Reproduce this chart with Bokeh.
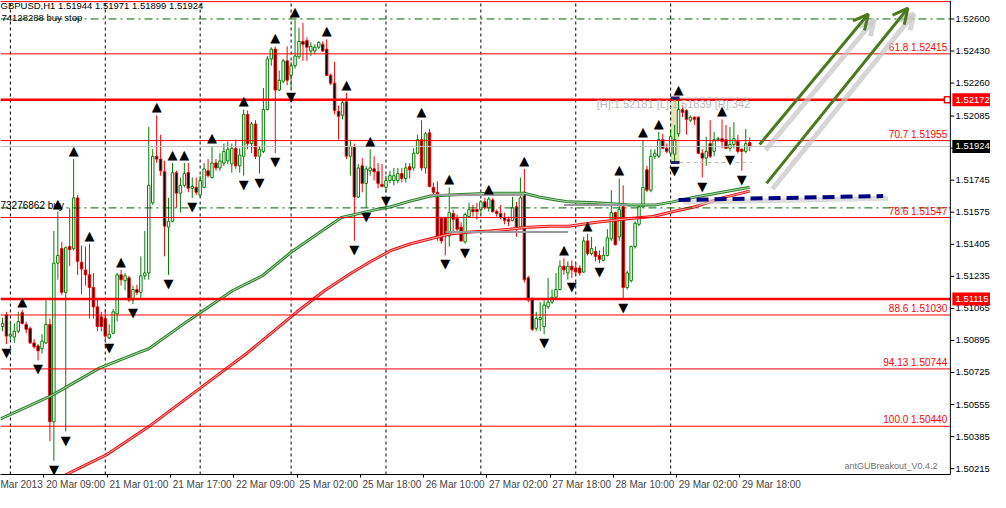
from bokeh.plotting import figure
from bokeh.models import (Range1d, FixedTicker, Label, Arrow, OpenHead, ColumnDataSource, Span)
from bokeh.embed import file_html
from bokeh.resources import INLINE
from bokeh.core.properties import value

# ---------------- data (GBPUSD H1, bar index 0 = 19 Mar 22:00) ----------------
bar_open = [1.50969,1.51031,1.50918,1.50913,1.50944,1.51042,1.50980,1.50959,1.50882,1.50866,
1.50851,1.50882,1.50980,1.50464,1.51305,1.51382,1.51150,1.51393,1.51382,1.51651,
1.51310,1.51269,1.51243,1.51176,1.51073,1.51021,1.51011,1.50908,1.50933,1.51036,
1.51243,1.51212,1.51227,1.51109,1.51165,1.51150,1.51238,1.51253,1.51625,1.51872,
1.51857,1.51790,1.51496,1.51527,1.51785,1.51676,1.51718,1.51785,1.51702,1.51707,
1.51666,1.51707,1.51795,1.51759,1.51836,1.51810,1.51836,1.51847,1.51831,1.51914,
1.51821,1.51872,1.52094,1.51939,1.52043,1.51872,1.51898,1.52120,1.52388,1.52440,
1.52223,1.52270,1.52378,1.52301,1.52352,1.52399,1.52481,1.52486,1.52430,1.52430,
1.52450,1.52466,1.52440,1.52301,1.52259,1.52110,1.52089,1.52161,1.51872,1.51924,
1.51656,1.51821,1.51728,1.51795,1.51805,1.51790,1.51723,1.51707,1.51743,1.51743,
1.51743,1.51780,1.51754,1.51816,1.51810,1.51888,1.51960,1.51810,1.51996,1.51707,
1.51681,1.51542,1.51547,1.51449,1.51568,1.51542,1.51496,1.51418,1.51552,1.51589,
1.51589,1.51589,1.51630,1.51599,1.51640,1.51578,1.51568,1.51547,1.51537,1.51532,
1.51604,1.51496,1.51681,1.51227,1.51114,1.50959,1.51006,1.50969,1.51073,1.51098,
1.51124,1.51165,1.51289,1.51253,1.51289,1.51279,1.51279,1.51258,1.51423,1.51356,
1.51367,1.51346,1.51320,1.51346,1.51434,1.51573,1.51444,1.51604,1.51176,1.51212,
1.51393,1.51511,1.51604,1.51800,1.51692,1.51872,1.51872,1.51960,1.51914,1.51888,
1.51883,1.51991,1.52120,1.52115,1.52063,1.52079,1.52079,1.51888,1.51862,1.51939,
1.51898,1.51960,1.51965,1.51960,1.51914,1.51934,1.51950,1.51909,1.51898,1.51944]
bar_high = [1.51016,1.51047,1.51000,1.50985,1.51047,1.51057,1.50995,1.50969,1.50902,1.50876,
1.50928,1.51109,1.51011,1.51475,1.51578,1.51418,1.51393,1.51599,1.51857,1.51666,
1.51398,1.51393,1.51408,1.51253,1.51114,1.51047,1.51062,1.50980,1.51062,1.51253,
1.51269,1.51253,1.51238,1.51186,1.51191,1.51341,1.51475,1.52027,1.51909,1.52089,
1.51986,1.51847,1.51651,1.51836,1.51795,1.51759,1.51836,1.51836,1.51759,1.51759,
1.51769,1.51836,1.51857,1.51924,1.51857,1.51888,1.51939,1.51950,1.51939,1.51960,
1.51914,1.52120,1.52115,1.52053,1.52063,1.51924,1.52234,1.52404,1.52450,1.52455,
1.52326,1.52388,1.52455,1.52373,1.52595,1.52554,1.52579,1.52502,1.52476,1.52466,
1.52481,1.52481,1.52492,1.52311,1.52373,1.52141,1.52172,1.52208,1.51960,1.51939,
1.51831,1.51862,1.51821,1.51909,1.51872,1.51836,1.51831,1.51769,1.51795,1.51810,
1.51810,1.51810,1.51836,1.51836,1.51914,1.51986,1.52063,1.52001,1.52017,1.51733,
1.51738,1.51552,1.51552,1.51707,1.51589,1.51563,1.51522,1.51573,1.51625,1.51614,
1.51625,1.51640,1.51651,1.51656,1.51651,1.51589,1.51614,1.51573,1.51552,1.51656,
1.51630,1.51759,1.51805,1.51238,1.51124,1.51047,1.51098,1.51109,1.51227,1.51165,
1.51253,1.51320,1.51331,1.51315,1.51320,1.51305,1.51294,1.51444,1.51460,1.51444,
1.51393,1.51372,1.51393,1.51485,1.51692,1.51578,1.51754,1.51718,1.51264,1.51398,
1.51527,1.51614,1.51960,1.51821,1.51909,1.51909,1.52001,1.51991,1.51939,1.52012,
1.52038,1.52181,1.52141,1.52120,1.52089,1.52084,1.52084,1.51909,1.51976,1.52063,
1.52001,1.51976,1.52068,1.52038,1.52027,1.52053,1.51986,1.51914,1.52017,1.51971]
bar_low = [1.50944,1.50876,1.50902,1.50882,1.50933,1.50980,1.50933,1.50876,1.50851,1.50789,
1.50825,1.50876,1.50361,1.50257,1.51217,1.51135,1.50412,1.51289,1.51372,1.51243,
1.51140,1.51186,1.51011,1.51011,1.50944,1.50944,1.50892,1.50902,1.50928,1.50995,
1.51186,1.51160,1.51098,1.51088,1.51135,1.51114,1.51217,1.51217,1.51614,1.51836,
1.51769,1.51341,1.51243,1.51522,1.51599,1.51573,1.51707,1.51681,1.51651,1.51666,
1.51656,1.51702,1.51759,1.51754,1.51795,1.51795,1.51821,1.51831,1.51785,1.51805,
1.51785,1.51769,1.51909,1.51888,1.51857,1.51780,1.51888,1.52115,1.52352,1.51888,
1.52218,1.52259,1.52249,1.52234,1.52337,1.52388,1.52378,1.52378,1.52404,1.52414,
1.52440,1.52425,1.52296,1.52249,1.52094,1.51960,1.52068,1.51857,1.51769,1.51423,
1.51651,1.51681,1.51599,1.51769,1.51743,1.51702,1.51707,1.51681,1.51728,1.51718,
1.51728,1.51733,1.51733,1.51754,1.51795,1.51883,1.51795,1.51780,1.51707,1.51666,
1.51423,1.51408,1.51346,1.51393,1.51475,1.51475,1.51418,1.51408,1.51547,1.51552,
1.51537,1.51563,1.51589,1.51578,1.51573,1.51552,1.51537,1.51511,1.51501,1.51527,
1.51444,1.51485,1.51202,1.51098,1.50944,1.50944,1.50944,1.50928,1.51062,1.51088,
1.51114,1.51160,1.51243,1.51217,1.51227,1.51238,1.51238,1.51253,1.51346,1.51346,
1.51315,1.51305,1.51315,1.51341,1.51423,1.51398,1.51423,1.51114,1.51165,1.51202,
1.51382,1.51501,1.51599,1.51681,1.51681,1.51857,1.51862,1.51909,1.51888,1.51883,
1.51839,1.51976,1.52079,1.51986,1.52053,1.52038,1.51883,1.51759,1.51821,1.51862,
1.51872,1.51950,1.51914,1.51909,1.51898,1.51914,1.51888,1.51795,1.51888,1.51899]
bar_close = [1.50985,1.50918,1.50928,1.50944,1.50995,1.50985,1.50954,1.50882,1.50861,1.50840,
1.50892,1.50980,1.50464,1.51305,1.51346,1.51150,1.51387,1.51377,1.51651,1.51315,
1.51274,1.51243,1.51176,1.51073,1.50969,1.50969,1.50918,1.50928,1.51047,1.51243,
1.51217,1.51238,1.51109,1.51165,1.51150,1.51238,1.51253,1.51718,1.51872,1.51857,
1.51795,1.51501,1.51527,1.51785,1.51676,1.51718,1.51780,1.51702,1.51712,1.51681,
1.51743,1.51805,1.51769,1.51836,1.51810,1.51847,1.51898,1.51909,1.51914,1.51821,
1.51878,1.52094,1.51939,1.52043,1.51872,1.51909,1.52120,1.52388,1.52440,1.52223,
1.52275,1.52378,1.52275,1.52352,1.52404,1.52481,1.52466,1.52450,1.52455,1.52450,
1.52476,1.52430,1.52301,1.52259,1.52115,1.52084,1.52156,1.51872,1.51924,1.51656,
1.51810,1.51728,1.51805,1.51810,1.51790,1.51728,1.51712,1.51743,1.51769,1.51769,
1.51780,1.51754,1.51810,1.51800,1.51888,1.51960,1.51810,1.51991,1.51712,1.51681,
1.51444,1.51423,1.51449,1.51573,1.51537,1.51485,1.51423,1.51563,1.51589,1.51578,
1.51578,1.51630,1.51599,1.51645,1.51578,1.51568,1.51547,1.51532,1.51527,1.51599,
1.51496,1.51651,1.51217,1.51109,1.50954,1.51011,1.51016,1.51083,1.51098,1.51124,
1.51165,1.51289,1.51269,1.51289,1.51269,1.51258,1.51253,1.51423,1.51356,1.51382,
1.51341,1.51325,1.51346,1.51439,1.51573,1.51403,1.51589,1.51176,1.51253,1.51393,
1.51516,1.51604,1.51707,1.51692,1.51872,1.51888,1.51960,1.51914,1.51898,1.51976,
1.51960,1.52120,1.52105,1.52068,1.52079,1.52068,1.51888,1.51862,1.51898,1.51872,
1.51960,1.51965,1.51950,1.51914,1.51934,1.51965,1.51898,1.51898,1.51939,1.51924]

# fractal bars
fractal_up = [5,14,18,22,30,39,43,46,53,61,69,74,82,87,93,106,113,123,132,142,148,156,162,166,171,182]
fractal_dn = [1,9,13,16,27,33,42,48,61,65,69,73,89,92,97,112,117,137,144,151,157,170,177,184,187]

# moving averages (bar index, price)
ma_fast_x = [-0.5,12,16.25,24.5,33.75,37,47,58.25,65.75,73.25,80.75,85.75,94.5,98.25,103.25,108.25,
             113.25,123.25,132,135.75,140,143.25,150.25,158.75,165.25,169.5,175.25,182,189]
ma_fast_y = [1.50479,1.50598,1.50649,1.50748,1.50825,1.50851,1.51000,1.51160,1.51238,1.51367,1.51475,
             1.51547,1.51589,1.51604,1.51635,1.51661,1.51666,1.51676,1.51676,1.51656,1.51640,1.51630,
             1.51625,1.51614,1.51614,1.51630,1.51656,1.51681,1.51707]
ma_slow_x = [14.5,17.75,26.25,37,49.5,62,74.5,81.5,88.25,93.25,98.25,103.25,108.25,113.25,118.25,
             123.25,128.25,133.25,138.25,143.25,150.25,158.75,164.5,169.5,175.25,182,189]
ma_slow_y = [1.50165,1.50201,1.50288,1.50438,1.50634,1.50830,1.51047,1.51160,1.51253,1.51315,1.51372,
             1.51408,1.51434,1.51460,1.51470,1.51475,1.51485,1.51496,1.51501,1.51501,1.51522,1.51542,
             1.51552,1.51578,1.51604,1.51651,1.51687]
step_x0 = [108, 112, 142]
step_x1 = [132, 143, 158]
step_y = [1.51666, 1.51470, 1.51614]

# levels
fib_pct = ["61.8", "70.7", "78.6", "88.6", "94.13", "100.0"]
fib_price = [1.52415, 1.51955, 1.51547, 1.51030, 1.50744, 1.50440]
thick_levels = [1.52172, 1.51115]
top_level = 1.52692
bid = 1.51924
buy_stop_price = 1.52600
buy_price = 1.51598
day_sep = [2, 26, 50, 73, 97, 121, 145, 169]

# range box
box_x = [169, 171.25]
box_hi, box_lo = 1.52181, 1.51839

# drawn objects
arrow_x0 = [191.5, 193.25]
arrow_y0 = [1.51934, 1.51728]
arrow_x1 = [219.0, 229.0]
arrow_y1 = [1.52626, 1.52657]
blue_x = [171, 222.75]
blue_y = [1.51640, 1.51661]

price_ticks = [1.52600,1.52430,1.52260,1.52085,1.51915,1.51745,1.51575,1.51405,1.51235,1.51065,
               1.50895,1.50725,1.50555,1.50385,1.50215]
time_idx = [-5, 11, 27, 43, 59, 75, 91, 107, 123, 139, 155, 171, 187]
time_lbl = ["Mar 2013", "20 Mar 09:00", "21 Mar 01:00", "21 Mar 17:00", "22 Mar 09:00",
            "25 Mar 02:00", "25 Mar 18:00", "26 Mar 10:00", "27 Mar 02:00", "27 Mar 18:00",
            "28 Mar 10:00", "29 Mar 02:00", "29 Mar 18:00"]

# ---------------- figure ----------------
FONT = "Liberation Sans"
XAX = 239.75      # price-axis line position (in bars)
XR = 249.9        # right end of the canvas area used for the price scale
Y0, Y1 = 1.50184, 1.52698
W, H = 990, 492
p = figure(width=W, height=H, x_range=Range1d(-0.5, XR), y_range=Range1d(Y0, Y1),
           y_axis_location=None, output_backend="svg", toolbar_location=None,
           min_border_left=0, min_border_top=0, min_border_right=0, min_border_bottom=0)
p.xgrid.visible = False
p.ygrid.visible = False
p.outline_line_color = None
p.background_fill_color = "white"
p.border_fill_color = "white"

# x axis
xa = p.xaxis[0]
centers = [time_idx[0] + 9.6] + [i + 7.5 for i in time_idx[1:]]
xa.ticker = FixedTicker(ticks=centers, minor_ticks=[i - 0.5 for i in time_idx[1:]])
xa.major_label_overrides = {c: l for c, l in zip(centers, time_lbl)}
xa.major_label_text_font = FONT
xa.major_label_text_font_size = "10px"
xa.major_tick_out = 0
xa.major_tick_in = 0
xa.minor_tick_out = 3
xa.minor_tick_in = 0
xa.minor_tick_line_color = "black"
xa.axis_line_color = "black"
xa.major_label_standoff = 1
xa.bounds = (-0.5, XAX)

# price scale (drawn with the same y scale)
px_per_price = (H - 15) / (Y1 - Y0)
half_box = 6.5 / px_per_price
p.add_layout(Span(location=XAX, dimension="height", line_color="black", line_width=1))
p.segment(x0=[XAX] * len(price_ticks), y0=price_ticks, x1=[XAX + 1.0] * len(price_ticks),
          y1=price_ticks, line_color="black", line_width=1)
shown = [t for t in price_ticks if abs(t - bid) > 0.0003]
p.text(x=[XAX + 1.3] * len(shown), y=shown, text=[f"{t:.5f}" for t in shown],
       text_baseline="middle", text_align="left", text_color="black",
       text_font=value(FONT), text_font_size="9.5px")
box_levels = [thick_levels[0], thick_levels[1], bid]
box_colors = ["#ff0000", "#ff0000", "black"]
p.quad(left=[XAX + 0.5] * 3, right=[XR] * 3,
       bottom=[b - half_box for b in box_levels], top=[b + half_box for b in box_levels],
       fill_color=box_colors, line_color=None)
p.text(x=[XAX + 1.3] * 3, y=box_levels, text=[f"{b:.5f}" for b in box_levels],
       text_baseline="middle", text_align="left", text_color="white",
       text_font=value(FONT), text_font_size="9.5px")

# range box (behind candles)
p.quad(left=[box_x[0]], right=[box_x[1]], bottom=[box_lo], top=[box_hi],
       fill_color="#e3e3b5", line_color=None)

# day separators
p.segment(x0=day_sep, y0=[Y0] * len(day_sep), x1=day_sep, y1=[Y1] * len(day_sep),
          line_color="black", line_dash="3 3", line_width=1)

# candles
bull = dict(x=[], h=[], l=[], t=[], b=[])
bear = dict(x=[], h=[], l=[], t=[], b=[])
for i in range(len(bar_open)):
    d = bull if bar_close[i] >= bar_open[i] else bear
    d["x"].append(i)
    d["h"].append(bar_high[i])
    d["l"].append(bar_low[i])
    d["t"].append(max(bar_open[i], bar_close[i]))
    d["b"].append(min(bar_open[i], bar_close[i]))
sb = ColumnDataSource(bull)
sr = ColumnDataSource(bear)
p.segment(x0="x", y0="l", x1="x", y1="h", source=sb, line_color="#008000", line_width=1)
p.segment(x0="x", y0="l", x1="x", y1="h", source=sr, line_color="#ff0000", line_width=1)
p.vbar(x="x", width=0.62, top="t", bottom="b", source=sb, fill_color="white",
       line_color="#008000", line_width=1)
p.vbar(x="x", width=0.62, top="t", bottom="b", source=sr, fill_color="black",
       line_color="#ff0000", line_width=1)

# moving averages
p.line(ma_fast_x, ma_fast_y, line_color="#2a7f2a", line_width=3)
p.line(ma_fast_x, ma_fast_y, line_color="#b5dcb5", line_width=1)
p.line(ma_slow_x, ma_slow_y, line_color="#ee1111", line_width=3)
p.line(ma_slow_x, ma_slow_y, line_color="#ffb3b3", line_width=1)
p.segment(x0=step_x0, y0=step_y, x1=step_x1, y1=step_y, line_color="#9a9a9a", line_width=2)

# horizontal levels (stop at the price-axis line)
nf = len(fib_price)
p.segment(x0=[-0.5] * nf, y0=fib_price, x1=[XAX] * nf, y1=fib_price, line_color="#ff0000", line_width=1)
p.segment(x0=[-0.5], y0=[top_level], x1=[XAX], y1=[top_level], line_color="#ff0000", line_width=1)
p.segment(x0=[-0.5] * 2, y0=thick_levels, x1=[XAX] * 2, y1=thick_levels, line_color="#ff0000",
          line_width=2.5)
p.segment(x0=[-0.5], y0=[bid], x1=[XAX], y1=[bid], line_color="#c0c0c0", line_width=1)
p.segment(x0=[-0.5] * 2, y0=[buy_stop_price, buy_price], x1=[XAX] * 2, y1=[buy_stop_price, buy_price],
          line_color="#006400", line_width=1, line_dash="8 4 2 4")
p.scatter([XAX - 0.75], [thick_levels[0]], marker="square", size=6,
          fill_color="white", line_color="#ff0000", line_width=1.5)

fib_txt = [f"{a} {b:.5f}" for a, b in zip(fib_pct, fib_price)]
p.text(x=[XAX - 0.8] * nf, y=fib_price, text=fib_txt, text_align="right",
       text_baseline="bottom", text_color="#ff0000", text_font=value(FONT),
       text_font_size="10px", y_offset=-1)

# range lines and caps
p.segment(x0=[box_x[1]] * 2, y0=[box_hi, box_lo], x1=[189.5] * 2, y1=[box_hi, box_lo],
          line_color="#bcbcbc", line_width=1, line_dash="4 3")
p.segment(x0=[box_x[0]] * 2, y0=[box_hi, box_lo], x1=[box_x[1]] * 2, y1=[box_hi, box_lo],
          line_color="#20206e", line_width=3)
p.add_layout(Label(x=150.3, y=box_hi, text=f"[H]:{box_hi:.5f} [L]:{box_lo:.5f} [R]:342",
                   text_color="#b8b8b8", text_font=FONT, text_font_size="11px",
                   text_baseline="top", y_offset=0))

# fractal arrows
p.text(x=fractal_up, y=[bar_high[i] for i in fractal_up], text=["\u25B2"] * len(fractal_up),
       text_align="center", text_baseline="bottom", text_color="black",
       text_font=value("DejaVu Sans"), text_font_size="13px", y_offset=-1)
p.text(x=fractal_dn, y=[bar_low[i] for i in fractal_dn], text=["\u25BC"] * len(fractal_dn),
       text_align="center", text_baseline="top", text_color="black",
       text_font=value("DejaVu Sans"), text_font_size="13px", y_offset=1)

# blue dashed line with shadow
p.line([x + 1.2 for x in blue_x], [y - 0.00012 for y in blue_y], line_color="#cfcfcf",
       line_width=5, line_alpha=0.7)
p.line(blue_x, blue_y, line_color="#000080", line_width=4, line_dash="12 6")

# green arrows with shadow
for k in range(2):
    p.add_layout(Arrow(x_start=arrow_x0[k] + 1.5, y_start=arrow_y0[k] - 0.0003,
                       x_end=arrow_x1[k] + 1.5, y_end=arrow_y1[k] - 0.0003,
                       line_color="#c4c4c4", line_width=5, line_alpha=0.7,
                       end=OpenHead(size=15, line_color="#c4c4c4", line_width=5, line_alpha=0.7)))
for k in range(2):
    p.add_layout(Arrow(x_start=arrow_x0[k], y_start=arrow_y0[k],
                       x_end=arrow_x1[k], y_end=arrow_y1[k],
                       line_color="#4a7a1c", line_width=3,
                       end=OpenHead(size=15, line_color="#4a7a1c", line_width=3)))

# texts
p.add_layout(Label(x=-0.5, y=Y1, text="GBPUSD,H1  1.51944 1.51971 1.51899 1.51924",
                   x_offset=0, y_offset=1, text_baseline="top", text_color="black",
                   text_font=FONT, text_font_size="9.5px"))
p.add_layout(Label(x=-0.5, y=buy_stop_price, text="74128288 buy stop", x_offset=1, y_offset=1.5,
                   text_baseline="alphabetic", text_color="black", text_font=FONT,
                   text_font_size="9.5px"))
p.add_layout(Label(x=-0.5, y=buy_price, text="73276862 buy", x_offset=0, y_offset=2,
                   text_baseline="alphabetic", text_color="black", text_font=FONT,
                   text_font_size="10px"))
p.add_layout(Label(x=236.5, y=Y0, text="antGUBreakout_V0.4.2", y_offset=4,
                   text_align="right", text_baseline="bottom", text_color="#707070",
                   text_font=FONT, text_font_size="9px"))

open("out.html", "w").write(file_html(p, INLINE))
